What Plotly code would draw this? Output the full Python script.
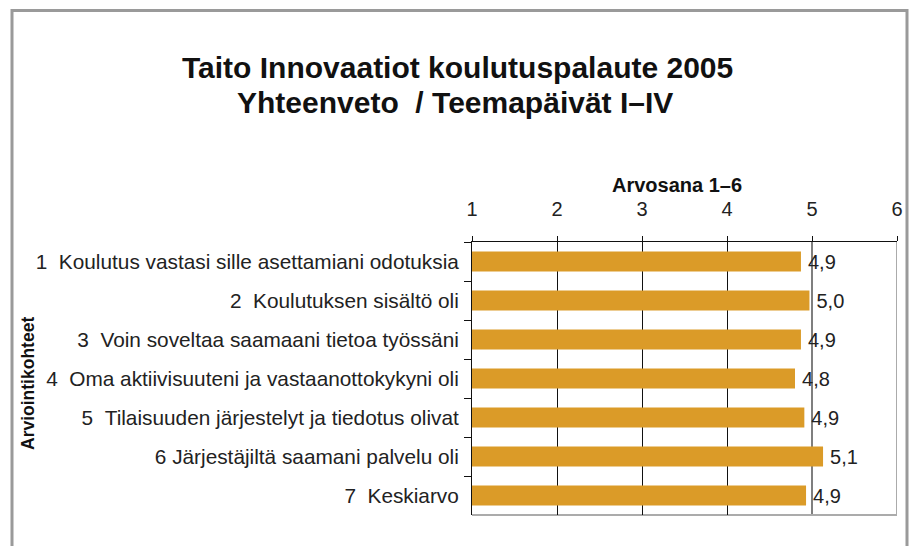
import plotly.graph_objects as go

categories = [
    "1\u00a0\u00a0Koulutus vastasi sille asettamiani odotuksia",
    "2\u00a0\u00a0Koulutuksen sisältö oli",
    "3\u00a0\u00a0Voin soveltaa saamaani tietoa työssäni",
    "4\u00a0\u00a0Oma aktiivisuuteni ja vastaanottokykyni oli",
    "5\u00a0\u00a0Tilaisuuden järjestelyt ja tiedotus olivat",
    "6 Järjestäjiltä saamani palvelu oli",
    "7\u00a0\u00a0Keskiarvo",
]
values = [4.87, 4.97, 4.87, 4.80, 4.91, 5.13, 4.93]
tick_vals = [1, 2, 3, 4, 5, 6]
grid_vals = [2, 3, 4]
ref_value = 5
title_lines = ["Taito Innovaatiot koulutuspalaute 2005", "Yhteenveto\u00a0 / Teemapäivät I–IV"]
x_title = "Arvosana 1–6"
y_title = "Arviointikohteet"

FONT = "Liberation Sans, Arial, sans-serif"
labels = ["\u2009" + f"{v:.1f}".replace(".", ",") for v in values]

W, H = 912, 546
L, R, T, B = 472, 15, 242, 31
pw, ph = W - L - R, H - T - B

def px(x):
    return (x - L) / pw

def py(y):
    return (H - B - y) / ph

fig = go.Figure(go.Bar(
    x=values, y=categories, orientation="h",
    marker=dict(color="#DB9B28", line=dict(width=0)),
    text=labels, textposition="outside", constraintext="none",
    textfont=dict(size=20, color="#222", family=FONT),
    cliponaxis=False, hoverinfo="skip",
))

fig.update_layout(
    width=W, height=H,
    margin=dict(l=L, r=R, t=T, b=B, autoexpand=False),
    paper_bgcolor="white", plot_bgcolor="white",
    bargap=0.49, showlegend=False,
    font=dict(family=FONT, color="#222"),
    xaxis=dict(side="top", range=[1, 6], tickvals=tick_vals,
               showgrid=False, automargin=False,
               minor=dict(tickvals=grid_vals, showgrid=True, gridcolor="#111",
                          gridwidth=1, ticks=""),
               showline=True, linecolor="#111", linewidth=1,
               ticks="outside", ticklen=5, tickcolor="#111",
               tickfont=dict(size=20, color="#222"),
               ticklabelstandoff=12, zeroline=False, fixedrange=True),
    yaxis=dict(type="category", autorange="reversed", automargin=False,
               showline=True, linecolor="#111", linewidth=1,
               ticks="outside", tickson="boundaries", ticklen=7, tickcolor="#111",
               tickfont=dict(size=20.8, color="#222"),
               ticklabelstandoff=8, showgrid=False, fixedrange=True),
    annotations=[
        dict(text="<b>" + title_lines[0] + "</b>", xref="paper", yref="paper",
             x=px(457), y=py(67), xanchor="center", yanchor="middle",
             showarrow=False, font=dict(size=30, color="#111")),
        dict(text="<b>" + title_lines[1] + "</b>", xref="paper", yref="paper",
             x=px(455), y=py(102.5), xanchor="center", yanchor="middle",
             showarrow=False, font=dict(size=30, color="#111")),
        dict(text="<b>" + x_title + "</b>", xref="paper", yref="paper",
             x=px(677), y=py(185), xanchor="center", yanchor="middle",
             showarrow=False, font=dict(size=20, color="#111")),
        dict(text="<b>" + y_title + "</b>", xref="paper", yref="paper",
             x=px(28), y=py(384), xanchor="center", yanchor="middle",
             textangle=-90, showarrow=False, font=dict(size=17.5, color="#111")),
    ],
    shapes=[
        # outer frame
        dict(type="rect", xref="paper", yref="paper",
             x0=px(12), x1=px(907), y0=py(600), y1=py(10.5),
             line=dict(color="#9a9a9a", width=3), layer="above"),
        # reference line at 5
        dict(type="line", xref="x", yref="paper", x0=ref_value, x1=ref_value, y0=0, y1=1,
             line=dict(color="#7f7f7f", width=2), layer="below"),
        # right and bottom plot border
        dict(type="line", xref="x", yref="paper", x0=6, x1=6, y0=0, y1=1,
             line=dict(color="#ababab", width=2), layer="below"),
        dict(type="line", xref="x", yref="paper", x0=1, x1=6, y0=0, y1=0,
             line=dict(color="#ababab", width=2), layer="below"),
    ],
)

fig.write_html("out.html")
